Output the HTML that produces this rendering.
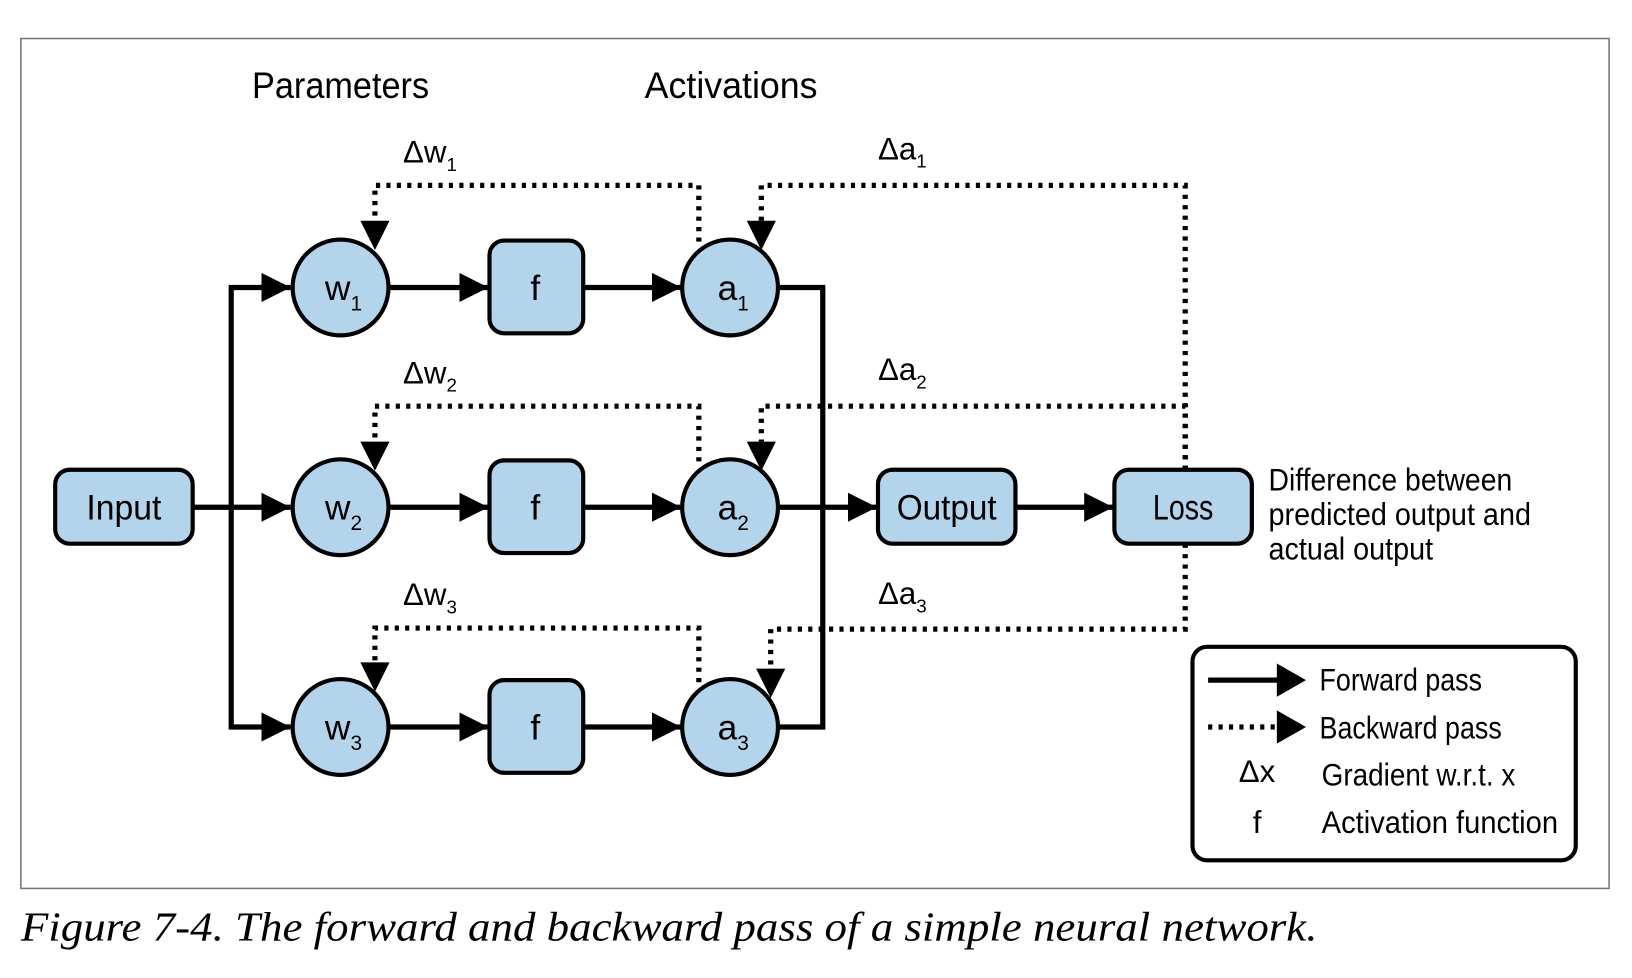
<!DOCTYPE html>
<html><head><meta charset="utf-8"><style>
html,body{margin:0;padding:0;background:#fff;}
svg{display:block;}
text{font-family:"Liberation Sans Narrow","Liberation Sans",sans-serif;fill:#000;}
</style></head><body>
<svg width="1632" height="978" viewBox="0 0 1567 939" preserveAspectRatio="none" xmlns="http://www.w3.org/2000/svg">
<defs>
<marker id="ah" viewBox="0 0 10 10" refX="10" refY="5" markerWidth="28" markerHeight="28" markerUnits="userSpaceOnUse" orient="auto"><path d="M0,0 L10,5 L0,10 z" fill="#000"/></marker>
</defs>
<rect x="20" y="37" width="1525" height="816" fill="none" stroke="#777" stroke-width="1.5"/>
<text x="327" y="94" font-size="36" text-anchor="middle" textLength="170" lengthAdjust="spacingAndGlyphs">Parameters</text>
<text x="702" y="94" font-size="36" text-anchor="middle" textLength="166" lengthAdjust="spacingAndGlyphs">Activations</text>

<g stroke="#000" stroke-width="5" fill="none">
<!-- forward -->
<path d="M185,487 H279" marker-end="url(#ah)"/>
<path d="M222,487 V276 H279" marker-end="url(#ah)"/>
<path d="M222,487 V698 H279" marker-end="url(#ah)"/>
<path d="M373,276 H469" marker-end="url(#ah)"/>
<path d="M373,487 H469" marker-end="url(#ah)"/>
<path d="M373,698 H469" marker-end="url(#ah)"/>
<path d="M560,276 H654" marker-end="url(#ah)"/>
<path d="M560,487 H654" marker-end="url(#ah)"/>
<path d="M560,698 H654" marker-end="url(#ah)"/>
<path d="M747,276 H790 V698 H747"/>
<path d="M747,487 H842" marker-end="url(#ah)"/>
<path d="M975,487 H1069" marker-end="url(#ah)"/>
</g>
<g stroke="#000" stroke-width="5" fill="none" stroke-dasharray="4 6">
<path d="M671,232 V178 H360 V212"/>
<path d="M671,443 V390 H360 V424"/>
<path d="M671,655 V603 H360 V636"/>
<path d="M1138,451 V178 H731 V212"/>
<path d="M1138,451 V390 H731 V424"/>
<path d="M1138,522 V604 H740 V642"/>
</g>
<g fill="#000">
<path d="M346,212 L374,212 L360,240 z"/>
<path d="M346,424 L374,424 L360,452 z"/>
<path d="M346,636 L374,636 L360,664 z"/>
<path d="M717,212 L745,212 L731,240 z"/>
<path d="M717,424 L745,424 L731,452 z"/>
<path d="M726,642 L754,642 L740,670 z"/>
</g>

<g fill="#b3d4eb" stroke="#000" stroke-width="4">
<circle cx="327" cy="276" r="46"/><circle cx="327" cy="487" r="46"/><circle cx="327" cy="698" r="46"/>
<circle cx="701" cy="276" r="46"/><circle cx="701" cy="487" r="46"/><circle cx="701" cy="698" r="46"/>
<rect x="470" y="231" width="90" height="89" rx="14"/>
<rect x="470" y="442" width="90" height="89" rx="14"/>
<rect x="470" y="653" width="90" height="89" rx="14"/>
<rect x="53" y="451" width="132" height="71" rx="14"/>
<rect x="843" y="451" width="132" height="71" rx="14"/>
<rect x="1070" y="451" width="132" height="71" rx="14"/>
</g>

<g font-size="34" text-anchor="middle">
<text x="514" y="288">f</text><text x="514" y="499">f</text><text x="514" y="710">f</text>
<text x="119" y="499" textLength="72" lengthAdjust="spacingAndGlyphs">Input</text>
<text x="909" y="499" textLength="96" lengthAdjust="spacingAndGlyphs">Output</text>
<text x="1136" y="499" textLength="58" lengthAdjust="spacingAndGlyphs">Loss</text>
</g>
<g font-size="34">
<text x="312" y="288">w<tspan font-size="20" dy="10">1</tspan></text>
<text x="312" y="499">w<tspan font-size="20" dy="10">2</tspan></text>
<text x="312" y="710">w<tspan font-size="20" dy="10">3</tspan></text>
<text x="689" y="288">a<tspan font-size="20" dy="10">1</tspan></text>
<text x="689" y="499">a<tspan font-size="20" dy="10">2</tspan></text>
<text x="689" y="710">a<tspan font-size="20" dy="10">3</tspan></text>
</g>
<g font-size="30">
<text x="387" y="156">Δw<tspan font-size="18" dy="8">1</tspan></text>
<text x="387" y="368">Δw<tspan font-size="18" dy="8">2</tspan></text>
<text x="387" y="581">Δw<tspan font-size="18" dy="8">3</tspan></text>
<text x="843" y="153">Δa<tspan font-size="18" dy="8">1</tspan></text>
<text x="843" y="365">Δa<tspan font-size="18" dy="8">2</tspan></text>
<text x="843" y="580">Δa<tspan font-size="18" dy="8">3</tspan></text>
</g>
<g font-size="30">
<text x="1218" y="471" textLength="234" lengthAdjust="spacingAndGlyphs">Difference between</text>
<text x="1218" y="504" textLength="252" lengthAdjust="spacingAndGlyphs">predicted output and</text>
<text x="1218" y="537" textLength="158" lengthAdjust="spacingAndGlyphs">actual output</text>
</g>

<rect x="1145" y="621" width="368" height="205" rx="14" fill="none" stroke="#000" stroke-width="4"/>
<path d="M1160,653 H1228" stroke="#000" stroke-width="5"/>
<path d="M1226,637 L1254,653 L1226,669 z" fill="#000"/>
<path d="M1160,698 H1228" stroke="#000" stroke-width="5" stroke-dasharray="4 6"/>
<path d="M1226,682 L1254,698 L1226,714 z" fill="#000"/>
<g font-size="30">
<text x="1267" y="663" textLength="156" lengthAdjust="spacingAndGlyphs">Forward pass</text>
<text x="1267" y="709" textLength="175" lengthAdjust="spacingAndGlyphs">Backward pass</text>
<text x="1269" y="754" textLength="186" lengthAdjust="spacingAndGlyphs">Gradient w.r.t. x</text>
<text x="1269" y="800" textLength="227" lengthAdjust="spacingAndGlyphs">Activation function</text>
<text x="1207" y="751" text-anchor="middle">Δx</text>
<text x="1207" y="800" text-anchor="middle">f</text>
</g>

<text x="20" y="903" font-size="40" font-style="italic" style="font-family:'Liberation Serif',serif" textLength="1245" lengthAdjust="spacingAndGlyphs">Figure 7-4. The forward and backward pass of a simple neural network.</text>
</svg>
</body></html>
